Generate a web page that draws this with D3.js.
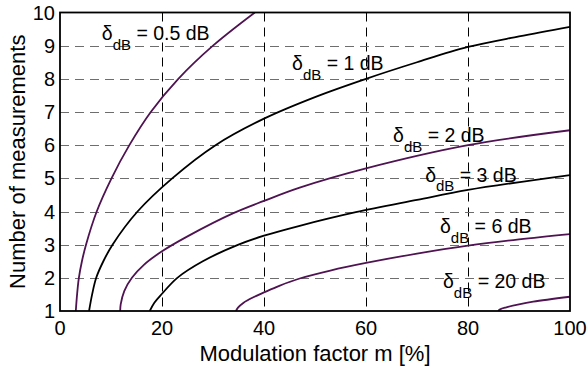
<!DOCTYPE html>
<html>
<head>
<meta charset="utf-8">
<script src="https://cdn.jsdelivr.net/npm/d3@7"></script>
<style>
  body { margin: 0; background: #fff; }
  svg { font-family: "Liberation Sans", Arial, sans-serif; }
</style>
</head>
<body>
<svg id="chart" width="588" height="366"></svg>
<script>
// values
var xTicks = [0, 20, 40, 60, 80, 100];
var yTicks = [1, 2, 3, 4, 5, 6, 7, 8, 9, 10];
var deltas = ["0.5", "1", "2", "3", "6", "20"];

var m05 = [3.1, 3.35, 3.7, 4.3, 5.1, 7.2, 10.1, 13.6, 17.8, 23.2, 30, 38.2];
var n05 = [1, 1.5, 2, 2.5, 3, 4, 5, 6, 7, 8, 9, 10];
var m1 = [5.7, 6.3, 7.1, 8.5, 10.3, 15.2, 22, 30.5, 40, 50, 60, 70, 80, 90, 100];
var n1 = [1, 1.5, 2, 2.5, 3, 4, 5, 6, 6.8, 7.45, 8.0, 8.5, 8.96, 9.28, 9.57];
var m2 = [11.8, 11.9, 12.6, 14.1, 16.5, 20, 25, 34, 40, 47, 60, 80, 100];
var n2 = [1, 1.2, 1.6, 2, 2.4, 2.8, 3.25, 3.95, 4.32, 4.72, 5.3, 6.0, 6.45];
var m3 = [17.6, 18.5, 20, 23, 28, 35, 40, 47, 58, 70, 80, 100];
var n3 = [1, 1.25, 1.52, 2, 2.5, 3, 3.27, 3.57, 3.98, 4.35, 4.65, 5.1];
var m6 = [34.5, 34.9, 36, 38, 40, 43, 47, 53, 60, 70, 80, 90, 100];
var n6 = [1, 1.1, 1.25, 1.42, 1.56, 1.76, 1.98, 2.22, 2.45, 2.73, 2.97, 3.16, 3.32];
var m20 = [85.9, 86.3, 87.5, 90, 92.8, 100];
var n20 = [1, 1.05, 1.11, 1.2, 1.28, 1.43];

// where each curve label starts (data units)
var labelM = [8.2, 45.5, 65.3, 71.6, 74.5, 75.1];
var labelN = [9.16, 8.26, 6.09, 4.89, 3.35, 1.69];

var purple = "#4f1352";
var colors = [purple, "#000", purple, "#000", purple, purple];
var curves = [[m05, n05], [m1, n1], [m2, n2], [m3, n3], [m6, n6], [m20, n20]];

var svg = d3.select("#chart"),
    pLeft = 60, pRight = 570, pTop = 12.5, pBottom = 311;

var x = d3.scaleLinear().domain([0, 100]).range([pLeft, pRight]);
var y = d3.scaleLinear().domain([1, 10]).range([pBottom, pTop]);

svg.append("clipPath").attr("id", "plot")
  .append("rect")
  .attr("x", pLeft).attr("y", pTop)
  .attr("width", pRight - pLeft).attr("height", pBottom - pTop);

// grid
svg.append("g").selectAll("line")
  .data(xTicks.slice(1, -1))
  .enter().append("line")
  .attr("x1", function(d) { return Math.round(x(d)) + 0.5; })
  .attr("x2", function(d) { return Math.round(x(d)) + 0.5; })
  .attr("y1", pTop).attr("y2", pBottom)
  .attr("stroke", "#000")
  .attr("stroke-dasharray", "9,6");

svg.append("g").selectAll("line")
  .data(yTicks.slice(1, -1))
  .enter().append("line")
  .attr("y1", function(d) { return Math.round(y(d)) + 0.5; })
  .attr("y2", function(d) { return Math.round(y(d)) + 0.5; })
  .attr("x1", pLeft).attr("x2", pRight)
  .attr("stroke", "#6e6e6e")
  .attr("stroke-dasharray", "9,6");

// curves
var line = d3.line()
  .x(function(d) { return x(d[0]); })
  .y(function(d) { return y(d[1]); })
  .curve(d3.curveCatmullRom.alpha(0.5));

svg.append("g").attr("clip-path", "url(#plot)")
  .selectAll("path")
  .data(curves)
  .enter().append("path")
  .attr("d", function(c) { return line(c[0].map(function(v, i) { return [v, c[1][i]]; })); })
  .attr("fill", "none")
  .attr("stroke", function(c, i) { return colors[i]; })
  .attr("stroke-width", 1.8);

// labels
var lab = svg.append("g").selectAll("text")
  .data(deltas)
  .enter().append("text")
  .attr("x", function(d, i) { return x(labelM[i]); })
  .attr("y", function(d, i) { return y(labelN[i]); })
  .attr("font-size", 19.5)
  .attr("fill", "#000");
lab.append("tspan").text("\u03b4");
lab.append("tspan").attr("font-size", 15).attr("dy", 9.5).text("dB");
lab.append("tspan").attr("dy", -9.5).text(function(d) { return " = " + d + " dB"; });

// frame
svg.append("rect")
  .attr("x", pLeft).attr("y", pTop)
  .attr("width", pRight - pLeft).attr("height", pBottom - pTop)
  .attr("fill", "none")
  .attr("stroke", "#000")
  .attr("stroke-width", 1.8);

// axes labels
svg.append("g").selectAll("text")
  .data(xTicks)
  .enter().append("text")
  .attr("x", function(d) { return x(d); })
  .attr("y", 335)
  .attr("text-anchor", "middle")
  .attr("font-size", 20)
  .text(function(d) { return d; });

svg.append("g").selectAll("text")
  .data(yTicks)
  .enter().append("text")
  .attr("x", 55)
  .attr("y", function(d) { return y(d) + 7; })
  .attr("text-anchor", "end")
  .attr("font-size", 20)
  .text(function(d) { return d; });

svg.append("text")
  .attr("x", (pLeft + pRight) / 2)
  .attr("y", 361)
  .attr("text-anchor", "middle")
  .attr("font-size", 22)
  .text("Modulation factor m [%]");

svg.append("text")
  .attr("transform", "translate(25," + (pTop + pBottom) / 2 + ") rotate(-90)")
  .attr("text-anchor", "middle")
  .attr("font-size", 22)
  .text("Number of measurements");
</script>
</body>
</html>
